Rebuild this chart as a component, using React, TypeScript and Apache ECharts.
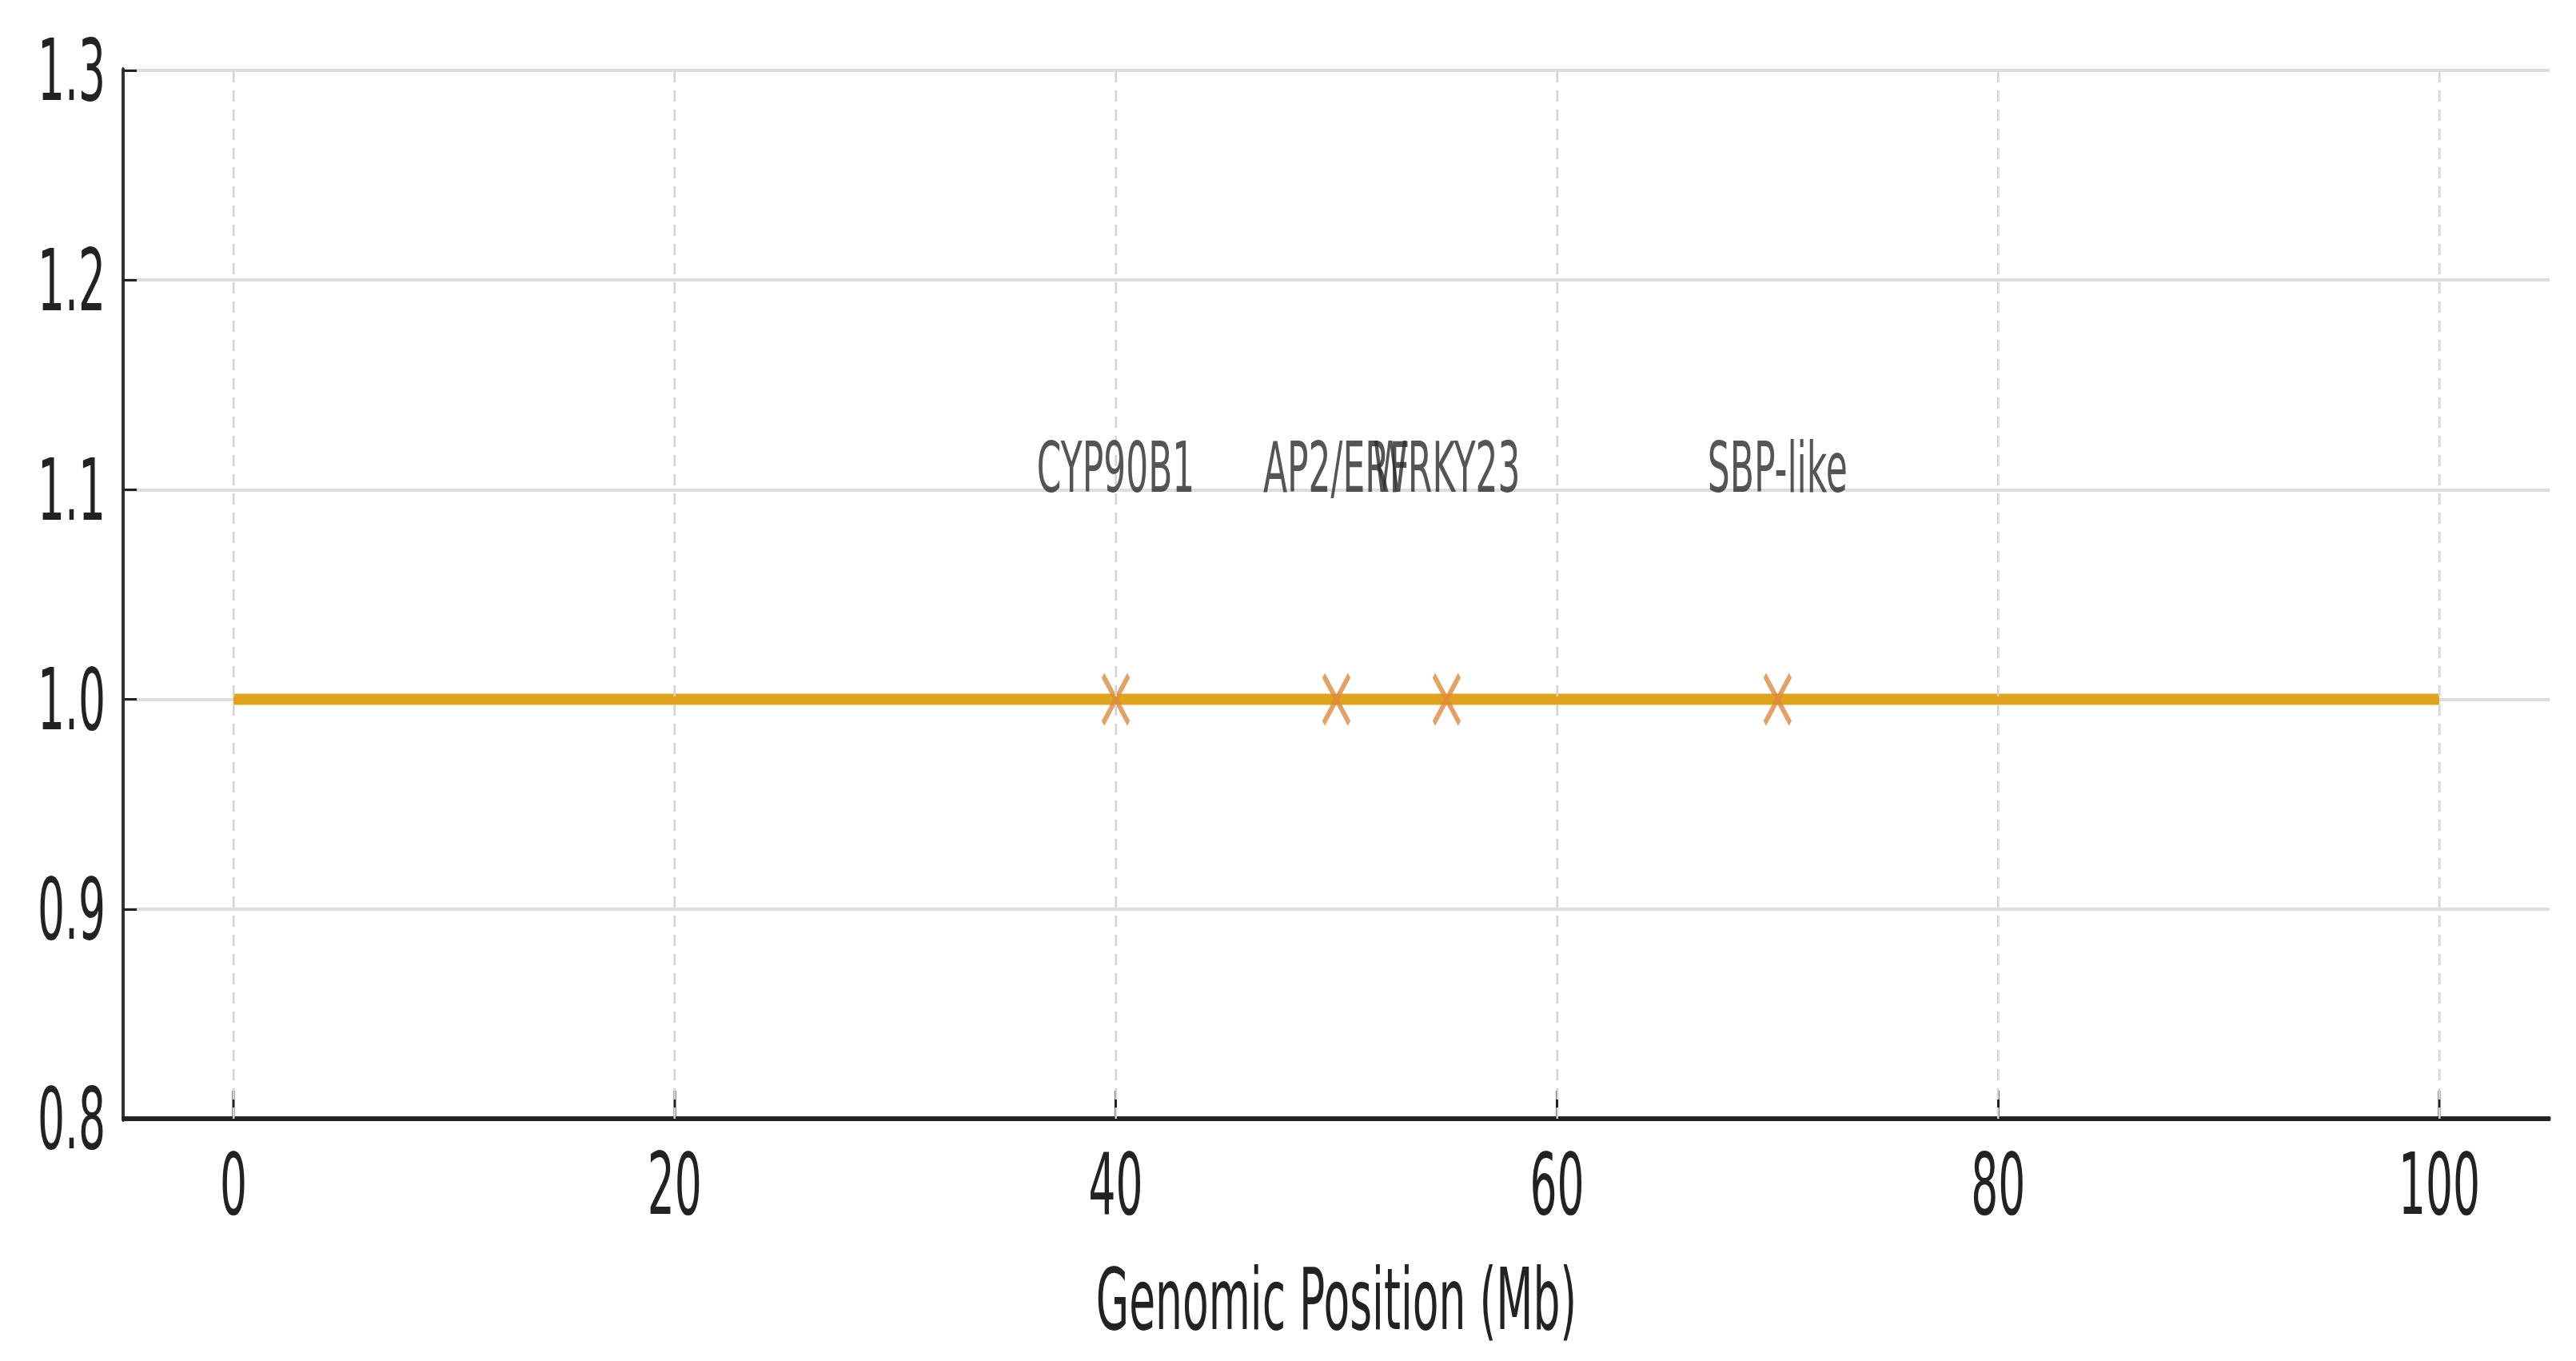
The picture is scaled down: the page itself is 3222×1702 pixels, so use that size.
import React, { useEffect, useRef } from "react";
import * as echarts from "echarts";

// ---- data ----
const geneNames = ["CYP90B1", "AP2/ERF", "WRKY23", "SBP-like"];
const genePositions = [40, 50, 55, 70];
const chromosomeStart = 0;
const chromosomeEnd = 100;
const chromosomeLevel = 1.0;
const geneLabelLevel = 1.1;
const xTickValues = [0, 20, 40, 60, 80, 100];
const xMin = -5;
const xMax = 105;
const yMin = 0.8;
const yMax = 1.3;
const yStep = 0.1;
const xAxisTitle = "Genomic Position (Mb)";

// the reference image is horizontally compressed; reproduce by scaling
const SX = 0.5;
const W = 3222;
const H = 1702;
const FONT = "DejaVu Sans";

export default function App() {
  const ref = useRef<HTMLDivElement>(null);

  useEffect(() => {
    if (!ref.current) return;
    const chart = echarts.init(ref.current, undefined, { renderer: "svg" });
    chart.setOption({
      animation: false,
      backgroundColor: "#ffffff",
      grid: { left: 308, right: 66, top: 88, bottom: 303, containLabel: false },
      xAxis: {
        type: "value",
        min: xMin,
        max: xMax,
        name: xAxisTitle,
        nameLocation: "middle",
        nameGap: 172,
        nameTextStyle: { fontFamily: FONT, fontSize: 107, color: "#222" },
        axisLine: { show: true, onZero: false, lineStyle: { color: "#222", width: 6 } },
        axisTick: {
          show: true,
          inside: true,
          length: 35,
          customValues: xTickValues,
          lineStyle: { color: "#222", width: 6 },
        },
        axisLabel: {
          show: true,
          customValues: xTickValues,
          margin: 28,
          fontFamily: FONT,
          fontSize: 107,
          color: "#222",
        },
        splitLine: { show: false },
      },
      yAxis: {
        type: "value",
        min: yMin,
        max: yMax,
        interval: yStep,
        axisLine: { show: true, onZero: false, lineStyle: { color: "#333", width: 8 } },
        axisTick: { show: true, inside: true, length: 34, lineStyle: { color: "#222", width: 3 } },
        axisLabel: {
          margin: 44,
          fontFamily: FONT,
          fontSize: 107,
          color: "#222",
          formatter: (v: number) => v.toFixed(1),
        },
        splitLine: { show: true, lineStyle: { color: "#dddddd", width: 4, type: "solid" } },
      },
      series: [
        {
          name: "vgrid",
          type: "scatter",
          data: [],
          z: 1,
          silent: true,
          markLine: {
            silent: true,
            symbol: "none",
            label: { show: false },
            lineStyle: { color: "#d4d4d4", width: 5, type: [14, 10] },
            data: xTickValues.map((v) => ({ xAxis: v })),
          },
        },
        {
          name: "chromosome",
          type: "line",
          z: 3,
          data: [
            [chromosomeStart, chromosomeLevel],
            [chromosomeEnd, chromosomeLevel],
          ],
          showSymbol: false,
          symbol: "none",
          lineStyle: { color: "#DFA31E", width: 14 },
        },
        {
          name: "genes",
          type: "scatter",
          z: 4,
          data: genePositions.map((p) => [p, chromosomeLevel]),
          symbol: "path://M0,0L10,10M10,0L0,10",
          symbolSize: [64, 60],
          itemStyle: { color: "none", borderColor: "#DD8A3C", borderWidth: 9 },
        },
        {
          name: "labels",
          type: "scatter",
          z: 5,
          data: genePositions.map((p, i) => ({ value: [p, geneLabelLevel], name: geneNames[i] })),
          symbolSize: 0,
          label: {
            show: true,
            position: "top",
            distance: 0,
            offset: [0, 16],
            formatter: "{b}",
            fontFamily: FONT,
            fontSize: 88,
            color: "#2a2a2a",
          },
        },
      ],
    });
    return () => chart.dispose();
  }, []);

  return (
    <div
      style={{
        position: "fixed",
        left: 0,
        top: 0,
        width: W,
        height: H,
        overflow: "hidden",
        background: "#fff",
      }}
    >
      <div
        ref={ref}
        style={{
          width: W / SX,
          height: H,
          transform: `scaleX(${SX})`,
          transformOrigin: "0 0",
        }}
      />
    </div>
  );
}
